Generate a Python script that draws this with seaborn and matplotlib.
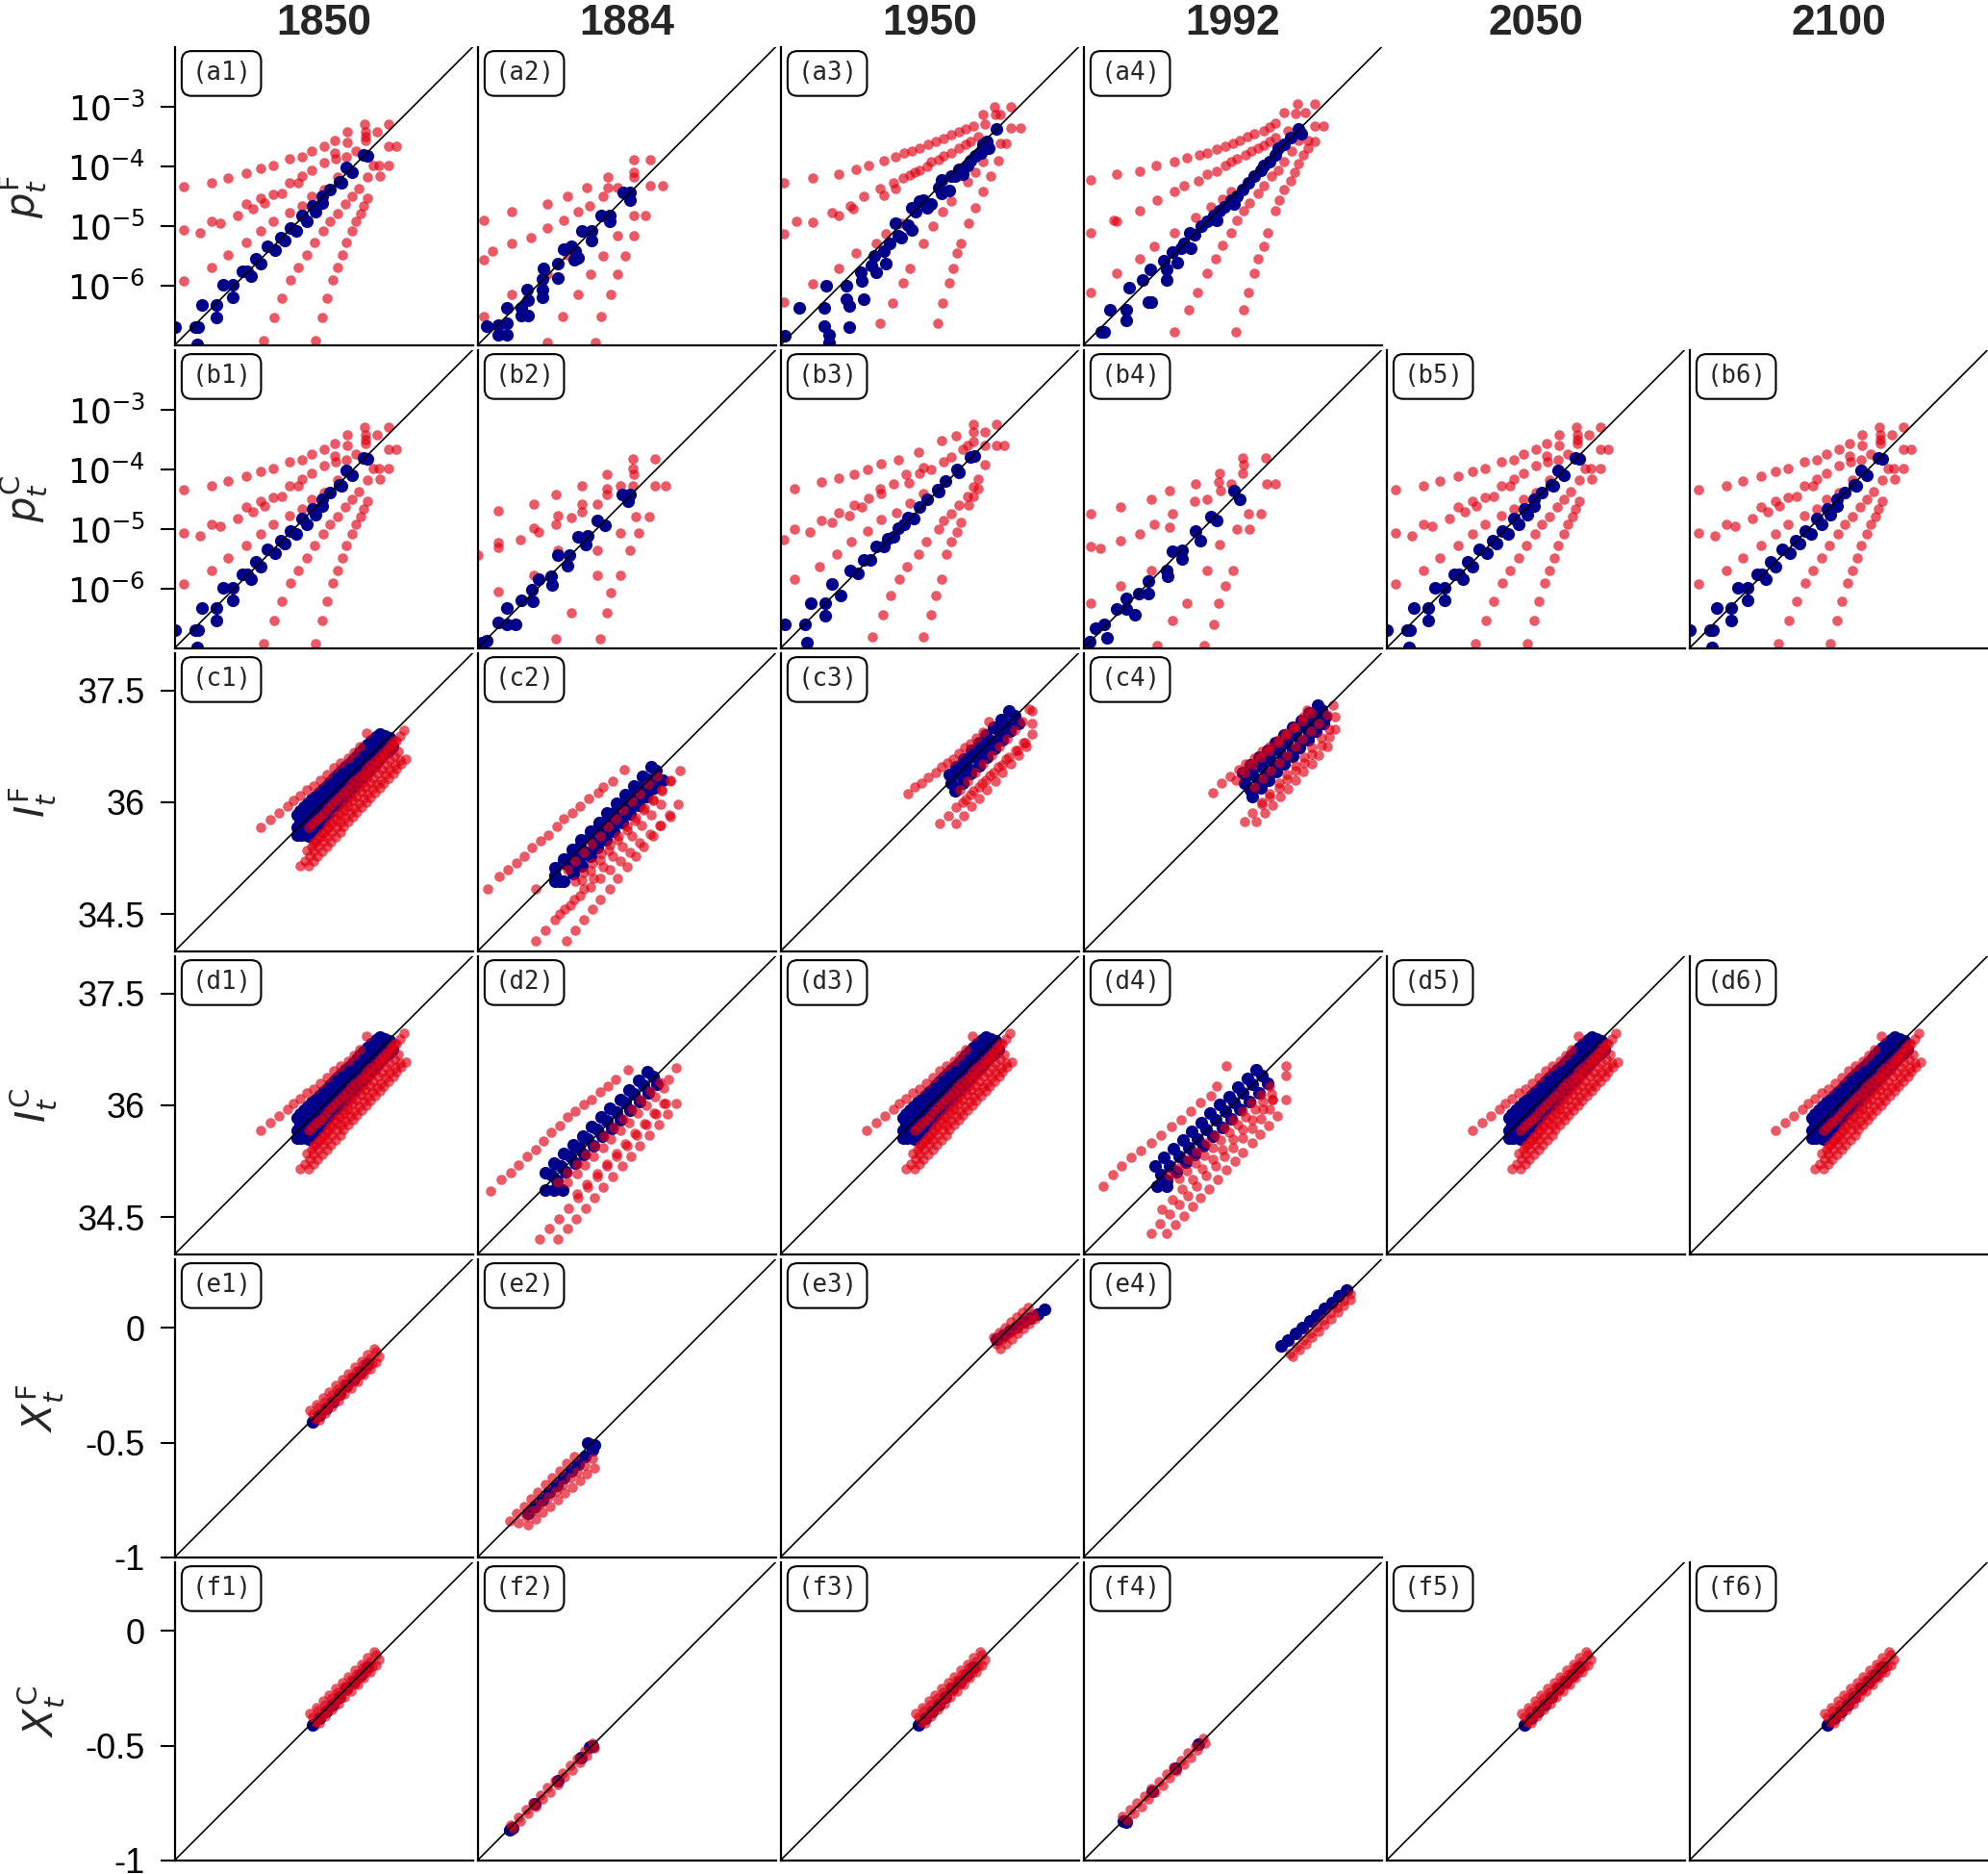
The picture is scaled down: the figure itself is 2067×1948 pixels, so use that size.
import numpy as np
import matplotlib
matplotlib.use('Agg')
import matplotlib.pyplot as plt
import seaborn as sns

# ---------------------------------------------------------------------------
# data
# rows a/b: log10 of the probabilities, rows c-f: plain values
# every list holds (true, predicted) pairs
# ---------------------------------------------------------------------------
YEARS = ['1850', '1884', '1950', '1992', '2050', '2100']
ROW_LETTERS = ['a', 'b', 'c', 'd', 'e', 'f']
ROW_LABELS = [r'$p_t^{\mathrm{F}}$', r'$p_t^{\mathrm{C}}$',
              r'$I_t^{\mathrm{F}}$', r'$I_t^{\mathrm{C}}$',
              r'$X_t^{\mathrm{F}}$', r'$X_t^{\mathrm{C}}$']
LOG_LIMS = (1e-7, 1e-2)
LOG_TICKS = [1e-6, 1e-5, 1e-4, 1e-3]
LOG_TICKLABELS = [r'$10^{-6}$', r'$10^{-5}$', r'$10^{-4}$', r'$10^{-3}$']
I_LIMS = (34.0, 38.0)
I_TICKS = [34.5, 36.0, 37.5]
I_TICKLABELS = ['34.5', '36', '37.5']
X_LIMS = (-1.0, 0.3)
X_TICKS = [-1.0, -0.5, 0.0]
X_TICKLABELS = ['-1', '-0.5', '0']

A1_BLUE = [(-7.00, -6.70), (-6.65, -6.70), (-6.60, -6.70), (-6.62, -6.98), (-6.54, -6.33),
           (-6.30, -6.33), (-6.30, -6.54), (-6.18, -5.99), (-6.02, -5.99), (-6.02, -6.19),
           (-5.86, -5.76), (-5.79, -5.76), (-5.71, -5.85), (-5.63, -5.55), (-5.55, -5.63),
           (-5.44, -5.35), (-5.32, -5.41), (-5.21, -5.19), (-5.15, -5.24), (-5.06, -5.04),
           (-4.96, -5.08), (-4.87, -4.83), (-4.78, -4.93), (-4.69, -4.66), (-4.63, -4.76),
           (-4.53, -4.51), (-4.53, -4.61), (-4.39, -4.39), (-4.23, -4.26), (-4.20, -4.28),
           (-4.12, -4.02), (-4.02, -4.10), (-3.83, -3.81), (-3.77, -3.83)]
A1_RED = [(-6.85, -4.35), (-6.38, -4.27), (-6.10, -4.19), (-5.80, -4.12), (-5.56, -4.04),
          (-5.34, -3.99), (-5.08, -3.88), (-4.87, -3.84), (-4.70, -3.75), (-4.49, -3.67),
          (-4.31, -3.57), (-4.10, -3.42), (-3.82, -3.29), (-3.41, -3.29),
          (-6.85, -5.06), (-6.38, -4.93), (-5.94, -4.83), (-5.80, -4.63), (-5.56, -4.53),
          (-5.34, -4.47), (-5.20, -4.45), (-5.08, -4.28), (-4.87, -4.17), (-4.70, -4.07),
          (-4.49, -3.94), (-4.30, -3.88), (-4.12, -3.84), (-3.96, -3.75), (-3.80, -3.57),
          (-6.57, -5.12), (-6.23, -4.96), (-5.68, -4.72), (-5.49, -4.62), (-4.92, -4.28),
          (-4.31, -3.77), (-4.10, -3.60),
          (-6.85, -5.92), (-6.38, -5.69), (-6.10, -5.49), (-5.80, -5.28), (-5.56, -5.08),
          (-5.34, -4.93), (-5.08, -4.78), (-4.87, -4.66), (-4.70, -4.51), (-4.49, -4.39),
          (-4.26, -4.18),
          (-5.51, -6.92), (-5.33, -6.54), (-5.20, -6.21), (-5.06, -5.91), (-4.92, -5.69),
          (-4.78, -5.48), (-4.65, -5.28), (-4.51, -5.08), (-4.39, -4.93), (-4.26, -4.80),
          (-4.13, -4.63), (-4.03, -4.51), (-3.91, -4.37), (-3.76, -4.18), (-3.67, -3.99),
          (-3.56, -4.17),
          (-4.63, -6.92), (-4.53, -6.54), (-4.45, -6.21), (-4.35, -5.91), (-4.27, -5.69),
          (-4.19, -5.48), (-4.12, -5.28), (-4.03, -5.08), (-3.96, -4.93), (-3.88, -4.80),
          (-3.83, -4.66), (-3.77, -4.53), (-3.58, -3.99), (-3.41, -3.99),
          (-3.80, -3.42), (-3.60, -3.42), (-3.41, -3.66), (-3.28, -3.66), (-3.80, -3.50)]

A2_BLUE = [(-6.85, -6.68), (-6.66, -6.67), (-6.51, -6.63), (-6.66, -6.83), (-6.51, -6.83),
           (-6.51, -6.37), (-6.27, -6.37), (-6.16, -6.25), (-6.26, -6.50), (-6.16, -6.50),
           (-6.17, -6.07), (-5.91, -6.07), (-5.91, -6.19), (-5.89, -5.72), (-5.91, -5.89),
           (-5.66, -5.64), (-5.65, -5.87), (-5.56, -5.39), (-5.43, -5.34), (-5.36, -5.42),
           (-5.38, -5.56), (-5.32, -5.54), (-5.25, -5.08), (-5.09, -5.08), (-5.09, -5.24),
           (-4.92, -4.83), (-4.79, -4.83), (-4.79, -4.93), (-4.55, -4.44), (-4.45, -4.44),
           (-4.45, -4.56)]
A2_RED = [(-6.89, -4.91), (-6.89, -5.57), (-6.75, -5.42), (-6.89, -6.52), (-6.42, -4.76),
          (-6.42, -5.30), (-6.11, -5.19), (-5.83, -4.64), (-5.83, -5.04), (-5.83, -5.81),
          (-5.58, -6.52), (-5.50, -4.50), (-5.56, -4.91), (-5.50, -5.49), (-5.32, -4.76),
          (-5.32, -6.15), (-5.17, -4.36), (-5.12, -4.66), (-5.10, -5.81), (-4.90, -4.51),
          (-4.90, -5.51), (-4.92, -6.52), (-4.81, -4.18), (-4.81, -4.36), (-4.66, -4.36),
          (-4.66, -5.17), (-4.66, -5.81), (-4.52, -5.51), (-4.38, -3.89), (-4.38, -4.10),
          (-4.38, -4.18), (-4.11, -3.89), (-4.38, -4.83), (-4.19, -4.83), (-4.38, -5.16),
          (-4.11, -4.33), (-3.89, -4.33), (-4.77, -6.15), (-5.83, -6.95), (-5.03, -6.95),
          (-6.42, -6.15)]

A3_BLUE = [(-6.93, -6.85), (-6.69, -6.37), (-6.26, -6.37), (-6.24, -6.01), (-6.26, -6.68),
           (-6.19, -6.83), (-6.19, -6.95), (-5.89, -6.01), (-5.89, -6.23), (-5.85, -6.35),
           (-5.85, -6.70), (-5.66, -5.77), (-5.63, -5.92), (-5.60, -6.23), (-5.48, -5.66),
           (-5.43, -5.51), (-5.40, -5.77), (-5.26, -5.42), (-5.23, -5.64), (-5.17, -5.30),
           (-5.03, -5.16), (-4.97, -5.19), (-4.87, -4.99), (-4.80, -5.06), (-4.74, -4.76),
           (-4.67, -4.58), (-4.54, -4.70), (-4.47, -4.63), (-4.30, -4.46), (-4.30, -4.23),
           (-4.17, -4.40), (-4.07, -4.17), (-4.01, -4.05), (-3.94, -4.13), (-3.87, -3.98),
           (-3.81, -3.90), (-3.74, -3.83), (-3.64, -3.77), (-3.61, -3.64), (-3.54, -3.58),
           (-3.51, -3.69), (-3.38, -3.38), (-5.07, -4.96), (-4.80, -4.70), (-4.60, -4.56),
           (-4.34, -4.36), (-4.14, -4.17)]
A3_RED = [(-6.95, -4.28), (-6.46, -4.20), (-6.03, -4.13), (-5.73, -4.05), (-5.52, -3.98),
          (-5.26, -3.91), (-5.08, -3.85), (-4.93, -3.78), (-4.80, -3.74), (-4.67, -3.70),
          (-4.52, -3.64), (-4.39, -3.58), (-4.27, -3.54), (-4.13, -3.47), (-4.01, -3.42),
          (-3.89, -3.37), (-3.76, -3.32), (-3.61, -3.14), (-3.41, -3.01), (-3.13, -3.01),
          (-6.95, -5.13), (-6.74, -4.93), (-6.46, -4.94), (-6.14, -4.77), (-6.03, -4.83),
          (-5.83, -4.66), (-5.78, -4.71), (-5.60, -4.50), (-5.33, -4.38), (-5.26, -4.48),
          (-5.10, -4.28), (-5.07, -4.38), (-4.95, -4.20), (-4.83, -4.15), (-4.75, -4.10),
          (-4.67, -4.07), (-4.54, -4.00), (-4.47, -3.93), (-4.34, -3.89), (-4.27, -3.83),
          (-4.14, -3.77), (-4.01, -3.70), (-3.89, -3.64), (-3.81, -3.58), (-3.68, -3.50),
          (-3.58, -3.30), (-3.40, -3.14), (-3.31, -3.14), (-3.13, -3.36), (-2.98, -3.36),
          (-6.46, -5.97), (-6.03, -5.72), (-5.73, -5.46), (-5.40, -5.29), (-5.23, -5.13),
          (-4.97, -4.96),
          (-6.95, -6.28), (-5.33, -6.63), (-5.12, -6.30), (-4.95, -5.95), (-4.83, -5.72),
          (-4.60, -5.29), (-4.44, -5.01), (-4.28, -4.76), (-4.13, -4.58), (-3.87, -4.26),
          (-3.74, -4.10), (-3.61, -3.93), (-3.31, -3.62),
          (-4.37, -6.63), (-4.28, -6.30), (-4.17, -5.95), (-4.11, -5.72), (-4.04, -5.46),
          (-3.97, -5.29), (-3.84, -4.96), (-3.74, -4.70), (-3.61, -4.43), (-3.48, -4.17),
          (-3.34, -3.91), (-3.21, -3.62)]

A4_BLUE = [(-6.70, -6.77), (-6.65, -6.77), (-6.55, -6.41), (-6.28, -6.41), (-6.28, -6.58),
           (-6.23, -6.04), (-6.01, -5.91), (-5.91, -6.28), (-5.86, -6.28), (-5.88, -5.73),
           (-5.66, -5.59), (-5.61, -5.73), (-5.61, -5.91), (-5.51, -5.44), (-5.42, -5.62),
           (-5.37, -5.37), (-5.32, -5.30), (-5.22, -5.12), (-5.20, -5.37), (-5.14, -5.15),
           (-5.02, -5.01), (-4.92, -4.93), (-4.82, -4.83), (-4.77, -4.90), (-4.72, -4.75),
           (-4.64, -4.68), (-4.52, -4.57), (-4.48, -4.64), (-4.43, -4.50), (-4.33, -4.39),
           (-4.23, -4.28), (-4.13, -4.17), (-4.03, -4.07), (-3.98, -3.99), (-3.88, -3.92),
           (-3.78, -3.81), (-3.73, -3.70), (-3.63, -3.63), (-3.53, -3.52), (-3.39, -3.38),
           (-3.34, -3.45)]
A4_RED = [(-6.88, -4.23), (-6.44, -4.14), (-6.06, -4.08), (-5.78, -3.99), (-5.47, -3.92),
          (-5.27, -3.86), (-5.05, -3.81), (-4.92, -3.78), (-4.77, -3.72), (-4.62, -3.67),
          (-4.50, -3.61), (-4.38, -3.56), (-4.25, -3.51), (-4.13, -3.46), (-3.98, -3.40),
          (-3.88, -3.34), (-3.78, -3.27), (-3.63, -3.10), (-3.41, -2.96), (-3.12, -2.96),
          (-3.12, -3.32), (-2.97, -3.32),
          (-6.88, -5.12), (-6.50, -4.91), (-6.44, -4.93), (-6.06, -4.75), (-5.76, -4.57),
          (-5.47, -4.43), (-5.32, -4.32), (-5.07, -4.25), (-4.92, -4.14), (-4.77, -4.09),
          (-4.62, -3.99), (-4.52, -3.92), (-4.43, -3.88), (-4.28, -3.81), (-4.18, -3.75),
          (-4.08, -3.70), (-3.98, -3.65), (-3.88, -3.59), (-3.78, -3.52), (-3.58, -3.41),
          (-3.44, -3.12), (-3.29, -3.10),
          (-6.88, -6.12), (-6.44, -5.80), (-6.06, -5.55), (-5.81, -5.35), (-5.47, -5.12),
          (-5.12, -4.86), (-4.87, -4.68), (-4.67, -4.55), (-4.52, -4.43),
          (-5.47, -6.78), (-5.24, -6.40), (-5.09, -6.12), (-4.92, -5.80), (-4.79, -5.55),
          (-4.67, -5.33), (-4.52, -5.12), (-4.43, -4.90), (-4.31, -4.75), (-4.21, -4.61),
          (-4.08, -4.46), (-3.98, -4.32), (-3.85, -4.17), (-3.73, -4.07), (-3.63, -3.92),
          (-3.51, -3.74), (-3.39, -3.56), (-3.24, -3.56),
          (-4.45, -6.78), (-4.31, -6.40), (-4.23, -6.12), (-4.13, -5.80), (-4.08, -5.55),
          (-3.98, -5.35), (-3.91, -5.12), (-3.78, -4.75), (-3.71, -4.57), (-3.63, -4.39),
          (-3.53, -4.25), (-3.46, -4.10), (-3.39, -3.96), (-3.32, -3.81), (-3.24, -3.70),
          (-3.12, -3.58)]

B2_BLUE = [(-6.92, -6.91), (-6.85, -6.88), (-6.66, -6.57), (-6.51, -6.60), (-6.36, -6.60),
           (-6.51, -6.32), (-6.27, -6.20), (-6.09, -6.02), (-6.07, -6.22), (-5.98, -5.84),
           (-5.76, -5.79), (-5.75, -5.94), (-5.65, -5.44), (-5.50, -5.62), (-5.46, -5.44),
           (-5.32, -5.14), (-5.19, -5.26), (-5.15, -5.11), (-4.99, -4.86), (-4.87, -4.94),
           (-4.57, -4.43), (-4.47, -4.53), (-4.44, -4.43)]
B2_RED = [(-6.99, -5.44), (-6.66, -4.70), (-6.66, -5.23), (-6.66, -5.31), (-6.66, -6.05),
          (-6.29, -5.18), (-6.06, -4.58), (-6.06, -4.98), (-5.98, -5.05), (-6.06, -5.77),
          (-5.68, -4.43), (-5.65, -4.78), (-5.68, -4.93), (-5.65, -5.36), (-5.43, -4.81),
          (-5.43, -6.40), (-5.68, -6.85), (-5.25, -4.28), (-5.25, -4.58), (-5.25, -4.72),
          (-5.00, -4.58), (-5.00, -5.36), (-5.00, -5.77), (-4.83, -4.09), (-4.83, -4.32),
          (-4.83, -4.43), (-4.77, -6.07), (-4.83, -6.40), (-4.95, -6.85), (-4.60, -4.28),
          (-4.60, -5.07), (-4.60, -5.77), (-4.40, -3.82), (-4.40, -3.99), (-4.38, -4.09),
          (-4.40, -4.28), (-4.34, -4.79), (-4.12, -4.79), (-4.44, -5.36), (-4.30, -5.07),
          (-4.02, -3.82), (-4.02, -4.28), (-3.85, -4.28)]

B3_BLUE = [(-6.93, -6.60), (-6.59, -6.60), (-6.56, -6.91), (-6.49, -6.24), (-6.25, -6.46),
           (-6.25, -6.24), (-6.14, -5.93), (-5.99, -6.11), (-5.83, -5.69), (-5.70, -5.75),
           (-5.60, -5.52), (-5.50, -5.52), (-5.40, -5.29), (-5.26, -5.29), (-5.20, -5.16),
           (-5.10, -5.13), (-5.03, -4.99), (-4.93, -4.93), (-4.87, -4.81), (-4.77, -4.83),
           (-4.67, -4.63), (-4.54, -4.50), (-4.37, -4.34), (-4.34, -4.38), (-4.24, -4.20),
           (-4.04, -4.00), (-4.01, -4.05), (-3.82, -3.79), (-3.75, -3.77)]
B3_RED = [(-6.95, -5.18), (-6.77, -4.32), (-6.32, -4.22), (-6.03, -4.15), (-5.76, -4.08),
          (-5.54, -4.00), (-5.31, -3.91), (-5.03, -3.85), (-4.68, -3.72), (-4.30, -3.52),
          (-4.06, -3.44), (-3.77, -3.24), (-3.77, -3.37), (-3.58, -3.37), (-3.38, -3.25),
          (-6.77, -5.01), (-6.51, -5.05), (-6.32, -4.86), (-6.14, -4.89), (-6.03, -4.73),
          (-5.85, -4.78), (-5.76, -4.60), (-5.63, -4.63), (-5.53, -4.48), (-5.33, -4.33),
          (-5.31, -4.40), (-5.10, -4.25), (-4.90, -4.08), (-4.85, -4.23), (-4.67, -4.07),
          (-4.60, -3.97), (-4.47, -4.00), (-4.27, -3.87), (-4.14, -3.79), (-3.94, -3.67),
          (-3.87, -3.60), (-3.77, -3.54), (-3.58, -3.60), (-3.38, -3.60), (-3.25, -3.60),
          (-6.77, -5.84), (-6.34, -5.64), (-6.05, -5.42), (-5.81, -5.21), (-5.54, -5.03),
          (-5.32, -4.85), (-5.05, -4.73), (-4.83, -4.56), (-4.60, -4.40),
          (-5.46, -6.81), (-5.28, -6.44), (-5.15, -6.12), (-5.01, -5.84), (-4.88, -5.64),
          (-4.68, -5.42), (-4.55, -5.21), (-4.35, -5.01), (-4.27, -4.86), (-4.14, -4.74),
          (-4.01, -4.60), (-3.86, -4.45), (-3.77, -4.30), (-3.68, -4.17), (-3.58, -3.93),
          (-4.60, -6.81), (-4.48, -6.44), (-4.40, -6.12), (-4.30, -5.84), (-4.22, -5.42),
          (-4.14, -5.21), (-4.04, -5.05), (-3.97, -4.89), (-3.84, -4.60), (-3.77, -4.46),
          (-3.68, -4.32)]

B4_BLUE = [(-6.90, -6.89), (-6.80, -6.67), (-6.65, -6.60), (-6.60, -6.82), (-6.44, -6.35),
           (-6.28, -6.35), (-6.14, -6.44), (-6.28, -6.17), (-6.08, -6.08), (-5.91, -6.09),
           (-5.91, -5.88), (-5.61, -5.70), (-5.59, -5.80), (-5.51, -5.37), (-5.34, -5.36),
           (-5.34, -5.51), (-5.12, -5.04), (-5.04, -5.19), (-4.87, -4.79), (-4.77, -4.86),
           (-4.48, -4.36), (-4.38, -4.50)]
B4_RED = [(-6.88, -4.75), (-6.88, -5.30), (-6.72, -5.33), (-6.88, -6.24), (-6.38, -4.64),
          (-6.38, -5.19), (-6.38, -5.95), (-6.06, -5.08), (-5.86, -4.50), (-5.81, -4.93),
          (-5.56, -4.97), (-5.86, -5.70), (-5.56, -4.36), (-5.51, -4.75), (-5.51, -6.53),
          (-5.27, -6.24), (-5.12, -4.25), (-5.14, -4.54), (-4.92, -4.50), (-4.72, -4.07),
          (-4.74, -4.21), (-4.70, -4.36), (-4.92, -5.70), (-4.72, -5.26), (-4.74, -6.24),
          (-4.82, -6.60), (-4.52, -4.25), (-4.43, -5.01), (-4.33, -3.81), (-4.31, -3.92),
          (-4.33, -4.07), (-4.23, -4.75), (-4.21, -5.01), (-4.03, -4.75), (-3.95, -3.81),
          (-4.50, -5.70), (-4.62, -5.95), (-4.97, -6.96), (-5.76, -6.96), (-3.93, -4.25),
          (-3.78, -4.25)]

C1_BLUE = [(35.64, 35.83), (35.74, 35.93), (35.84, 36.03), (35.94, 36.13), (36.04, 36.22),
           (36.14, 36.32), (36.24, 36.42), (36.34, 36.52), (36.44, 36.62), (36.54, 36.72),
           (36.64, 36.82), (36.75, 36.92),
           (35.69, 35.88), (35.79, 35.98), (35.89, 36.08), (35.99, 36.18), (36.09, 36.27),
           (36.19, 36.37), (36.29, 36.47), (36.39, 36.57), (36.49, 36.67), (36.59, 36.77),
           (36.70, 36.87),
           (35.69, 35.75), (35.79, 35.85), (35.89, 35.95), (35.99, 36.05), (36.09, 36.15),
           (36.19, 36.25), (36.30, 36.36), (36.40, 36.46), (36.51, 36.57), (36.61, 36.67),
           (36.71, 36.78), (36.82, 36.89),
           (35.74, 35.80), (35.84, 35.90), (35.94, 36.00), (36.04, 36.10), (36.14, 36.20),
           (36.25, 36.31), (36.35, 36.41), (36.46, 36.52), (36.56, 36.62), (36.66, 36.73),
           (36.77, 36.84),
           (35.72, 35.67), (35.83, 35.78), (35.94, 35.89), (36.04, 35.99), (36.15, 36.10),
           (36.25, 36.20), (36.36, 36.31), (36.46, 36.42), (36.57, 36.53), (36.68, 36.64),
           (36.78, 36.75), (36.89, 36.86),
           (35.78, 35.73), (35.89, 35.84), (35.99, 35.94), (36.10, 36.05), (36.20, 36.15),
           (36.31, 36.26), (36.41, 36.37), (36.52, 36.48), (36.63, 36.59), (36.73, 36.70),
           (36.84, 36.81),
           (35.80, 35.55), (35.90, 35.66), (36.00, 35.77), (36.10, 35.88), (36.20, 35.99),
           (36.31, 36.10), (36.41, 36.21), (36.51, 36.32), (36.61, 36.43), (36.71, 36.54),
           (36.82, 36.65), (36.92, 36.75),
           (35.85, 35.61), (35.95, 35.72), (36.05, 35.83), (36.15, 35.94), (36.26, 36.05),
           (36.36, 36.16), (36.46, 36.27), (36.56, 36.38), (36.66, 36.49), (36.77, 36.60),
           (36.87, 36.70),
           (35.64, 35.56), (35.70, 35.56), (35.77, 35.56), (35.64, 35.66)]
C1_RED = [(35.16, 35.66), (35.28, 35.77), (35.40, 35.86), (35.51, 35.94), (35.59, 36.02),
          (35.69, 36.09), (35.77, 36.16), (35.87, 36.22), (35.95, 36.29), (36.05, 36.37),
          (36.14, 36.46), (36.23, 36.53), (36.33, 36.59), (36.41, 36.67), (36.49, 36.75),
          (36.58, 36.93),
          (35.80, 35.66), (35.90, 35.76), (36.00, 35.86), (36.11, 35.97), (36.21, 36.07),
          (36.32, 36.18), (36.42, 36.29), (36.53, 36.39), (36.63, 36.50), (36.74, 36.60),
          (36.84, 36.71), (36.95, 36.82),
          (35.85, 35.71), (35.95, 35.81), (36.06, 35.92), (36.16, 36.02), (36.27, 36.13),
          (36.37, 36.24), (36.48, 36.34), (36.58, 36.45), (36.69, 36.55), (36.79, 36.66),
          (36.90, 36.77),
          (35.87, 35.45), (35.98, 35.59), (36.09, 35.73), (36.20, 35.86), (36.31, 36.00),
          (36.42, 36.14), (36.53, 36.27), (36.64, 36.41), (36.75, 36.55), (36.86, 36.69),
          (36.97, 36.82), (37.08, 36.96),
          (35.93, 35.52), (36.04, 35.66), (36.15, 35.80), (36.26, 35.93), (36.37, 36.07),
          (36.48, 36.21), (36.59, 36.34), (36.70, 36.48), (36.81, 36.62), (36.92, 36.76),
          (37.03, 36.89),
          (35.69, 35.14), (35.81, 35.27), (35.93, 35.40), (36.05, 35.53), (36.17, 35.66),
          (36.29, 35.79), (36.41, 35.92), (36.53, 36.05), (36.65, 36.18), (36.77, 36.30),
          (36.89, 36.43), (37.02, 36.56),
          (35.75, 35.21), (35.87, 35.34), (35.99, 35.47), (36.11, 35.60), (36.23, 35.73),
          (36.35, 35.86), (36.47, 35.99), (36.59, 36.12), (36.71, 36.24), (36.83, 36.37),
          (36.96, 36.50),
          (35.80, 35.14), (35.92, 35.27), (36.04, 35.40), (36.16, 35.53), (36.27, 35.67),
          (36.39, 35.80), (36.51, 35.93), (36.63, 36.06), (36.75, 36.19), (36.87, 36.32),
          (36.98, 36.45), (37.10, 36.58),
          (35.86, 35.21), (35.98, 35.34), (36.10, 35.47), (36.22, 35.60), (36.33, 35.74),
          (36.45, 35.87), (36.57, 36.00), (36.69, 36.13), (36.81, 36.26), (36.93, 36.39),
          (37.04, 36.52),
          (35.78, 35.35), (35.89, 35.47), (36.00, 35.59), (36.11, 35.71), (36.22, 35.83),
          (36.33, 35.95), (36.45, 36.08), (36.56, 36.20), (36.67, 36.32), (36.78, 36.44),
          (36.89, 36.56), (37.00, 36.68),
          (35.84, 35.41), (35.95, 35.53), (36.06, 35.65), (36.17, 35.77), (36.28, 35.89),
          (36.39, 36.02), (36.51, 36.14), (36.62, 36.26), (36.73, 36.38), (36.84, 36.50),
          (36.95, 36.62)]

C2_BLUE = [(35.04, 35.12), (35.16, 35.24), (35.27, 35.37), (35.39, 35.49), (35.51, 35.61),
           (35.63, 35.73), (35.74, 35.86), (35.86, 35.98), (35.98, 36.10), (36.10, 36.22),
           (36.21, 36.35), (36.33, 36.47),
           (35.16, 35.18), (35.27, 35.29), (35.38, 35.41), (35.50, 35.52), (35.61, 35.63),
           (35.72, 35.74), (35.83, 35.86), (35.94, 35.97), (36.05, 36.08), (36.16, 36.19),
           (36.28, 36.31), (36.39, 36.42),
           (35.25, 35.12), (35.36, 35.23), (35.46, 35.33), (35.57, 35.44), (35.67, 35.54),
           (35.78, 35.65), (35.88, 35.75), (35.99, 35.86), (36.09, 35.96), (36.20, 36.07),
           (36.30, 36.17), (36.41, 36.28),
           (35.29, 35.04), (35.40, 35.15), (35.51, 35.27), (35.61, 35.39), (35.72, 35.50),
           (35.83, 35.61), (35.94, 35.73), (36.05, 35.84), (36.16, 35.96), (36.26, 36.07),
           (36.37, 36.19), (36.48, 36.30),
           (35.04, 34.94), (35.10, 34.94), (35.16, 34.94), (35.04, 35.02)]
C2_RED = [(34.13, 34.83), (34.29, 35.00), (34.41, 35.09), (34.52, 35.19), (34.63, 35.28),
          (34.73, 35.39), (34.84, 35.48), (34.95, 35.56), (35.06, 35.67), (35.16, 35.78),
          (35.27, 35.86), (35.38, 35.95), (35.49, 36.05), (35.62, 36.13), (35.68, 36.21),
          (35.81, 36.28), (35.97, 36.44),
          (35.20, 35.10), (35.31, 35.21), (35.42, 35.33), (35.53, 35.44), (35.64, 35.55),
          (35.75, 35.67), (35.85, 35.78), (35.96, 35.90), (36.07, 36.01), (36.18, 36.12),
          (36.29, 36.24), (36.40, 36.35),
          (35.31, 34.94), (35.43, 35.06), (35.54, 35.18), (35.66, 35.31), (35.77, 35.43),
          (35.89, 35.55), (36.01, 35.67), (36.12, 35.79), (36.24, 35.92), (36.36, 36.04),
          (36.47, 36.16), (36.59, 36.28),
          (35.40, 34.95), (35.52, 35.08), (35.64, 35.22), (35.76, 35.35), (35.88, 35.49),
          (36.00, 35.62), (36.11, 35.75), (36.23, 35.89), (36.35, 36.02), (36.47, 36.15),
          (36.59, 36.29), (36.71, 36.42),
          (34.78, 34.14), (34.91, 34.28), (35.04, 34.42), (35.17, 34.56), (35.30, 34.70),
          (35.43, 34.84), (35.56, 34.98), (35.68, 35.13), (35.81, 35.27), (35.94, 35.41),
          (36.07, 35.55), (36.20, 35.69), (36.33, 35.83), (36.46, 35.97),
          (35.19, 34.14), (35.31, 34.28), (35.42, 34.42), (35.54, 34.56), (35.65, 34.70),
          (35.77, 34.84), (35.88, 34.98), (36.00, 35.13), (36.12, 35.27), (36.23, 35.41),
          (36.35, 35.55), (36.46, 35.69), (36.58, 35.83), (36.69, 35.97),
          (35.10, 34.50), (35.24, 34.62), (35.37, 34.74), (35.51, 34.86), (35.64, 34.98),
          (35.78, 35.10), (35.91, 35.21), (36.05, 35.33), (36.18, 35.45), (36.32, 35.57),
          (36.45, 35.69), (36.59, 35.81),
          (34.78, 34.83)]

D2_BLUE = [(34.91, 35.10), (35.03, 35.22), (35.16, 35.35), (35.28, 35.47), (35.41, 35.59),
           (35.53, 35.71), (35.66, 35.84), (35.78, 35.96), (35.91, 36.08), (36.03, 36.20),
           (36.16, 36.33), (36.28, 36.45),
           (34.99, 35.07), (35.11, 35.19), (35.24, 35.31), (35.36, 35.43), (35.48, 35.55),
           (35.61, 35.67), (35.73, 35.79), (35.86, 35.91), (35.98, 36.03), (36.10, 36.15),
           (36.23, 36.27), (36.35, 36.39),
           (35.06, 34.99), (35.18, 35.11), (35.31, 35.22), (35.43, 35.34), (35.55, 35.46),
           (35.67, 35.58), (35.80, 35.69), (35.92, 35.81), (36.04, 35.93), (36.17, 36.05),
           (36.29, 36.16), (36.41, 36.28),
           (34.91, 34.86), (35.03, 34.86), (35.14, 34.86)]
D2_RED = [(34.18, 34.85), (34.32, 35.01), (34.44, 35.10), (34.55, 35.20), (34.67, 35.31),
          (34.78, 35.41), (34.88, 35.52), (34.99, 35.63), (35.10, 35.73), (35.21, 35.84),
          (35.31, 35.92), (35.42, 36.01), (35.53, 36.08), (35.64, 36.18), (35.75, 36.26),
          (35.85, 36.34), (36.02, 36.48),
          (35.08, 34.97), (35.20, 35.09), (35.33, 35.21), (35.45, 35.34), (35.57, 35.46),
          (35.70, 35.58), (35.82, 35.70), (35.95, 35.82), (36.07, 35.95), (36.19, 36.07),
          (36.32, 36.19), (36.44, 36.31),
          (35.21, 34.97), (35.33, 35.08), (35.44, 35.20), (35.56, 35.31), (35.68, 35.43),
          (35.79, 35.54), (35.92, 35.66), (36.03, 35.77), (36.15, 35.89), (36.27, 36.00),
          (36.38, 36.12), (36.50, 36.23),
          (36.56, 36.34), (36.67, 36.50),
          (34.83, 34.20), (34.96, 34.34), (35.09, 34.48), (35.22, 34.62), (35.35, 34.76),
          (35.48, 34.90), (35.61, 35.04), (35.74, 35.18), (35.87, 35.32), (36.00, 35.46),
          (36.13, 35.60), (36.26, 35.74), (36.39, 35.88), (36.52, 36.02),
          (35.08, 34.20), (35.20, 34.34), (35.32, 34.48), (35.45, 34.62), (35.57, 34.76),
          (35.69, 34.90), (35.81, 35.04), (35.94, 35.18), (36.06, 35.32), (36.18, 35.46),
          (36.30, 35.60), (36.43, 35.74), (36.55, 35.88), (36.67, 36.02),
          (35.34, 34.81), (35.47, 34.94), (35.60, 35.08), (35.73, 35.21), (35.86, 35.35),
          (35.98, 35.48), (36.11, 35.62), (36.24, 35.75), (36.37, 35.89), (36.50, 36.02)]

C3_BLUE = [(36.26, 36.37), (36.36, 36.48), (36.46, 36.58), (36.56, 36.69), (36.66, 36.80),
           (36.76, 36.90), (36.86, 37.01), (36.96, 37.11), (37.06, 37.22),
           (36.29, 36.26), (36.40, 36.37), (36.50, 36.49), (36.61, 36.60), (36.72, 36.71),
           (36.82, 36.82), (36.93, 36.94), (37.03, 37.05), (37.14, 37.16),
           (36.34, 36.15), (36.45, 36.26), (36.55, 36.38), (36.66, 36.49), (36.77, 36.61),
           (36.87, 36.72), (36.98, 36.83), (37.08, 36.95), (37.19, 37.06)]
C3_RED = [(35.71, 36.11), (35.80, 36.20), (35.89, 36.26), (35.98, 36.33), (36.08, 36.40),
          (36.16, 36.47), (36.24, 36.53), (36.32, 36.58), (36.39, 36.66), (36.47, 36.73),
          (36.55, 36.79), (36.63, 36.86), (36.71, 36.94), (36.79, 37.08),
          (36.40, 36.17), (36.51, 36.28), (36.61, 36.40), (36.72, 36.51), (36.83, 36.63),
          (36.93, 36.74), (37.04, 36.85), (37.14, 36.97), (37.25, 37.08),
          (36.14, 35.71), (36.25, 35.82), (36.36, 35.93), (36.48, 36.04), (36.59, 36.15),
          (36.70, 36.26), (36.81, 36.36), (36.92, 36.47), (37.03, 36.58), (37.15, 36.69),
          (37.26, 36.80), (37.37, 36.91),
          (36.35, 35.71), (36.46, 35.82), (36.56, 35.94), (36.67, 36.05), (36.77, 36.17),
          (36.88, 36.28), (36.98, 36.40), (37.09, 36.51), (37.19, 36.63), (37.30, 36.74),
          (36.45, 36.00), (36.55, 36.10), (36.66, 36.20), (36.76, 36.30), (36.86, 36.40),
          (36.97, 36.50), (37.07, 36.60), (37.18, 36.70), (37.28, 36.80),
          (37.37, 37.22), (37.33, 37.25), (37.37, 37.05)]

C4_BLUE = [(36.13, 36.40), (36.24, 36.50), (36.35, 36.60), (36.47, 36.70), (36.58, 36.80),
           (36.69, 36.90), (36.80, 37.00), (36.92, 37.10), (37.03, 37.20), (37.14, 37.30),
           (36.16, 36.26), (36.27, 36.37), (36.39, 36.48), (36.50, 36.59), (36.62, 36.70),
           (36.73, 36.80), (36.85, 36.91), (36.96, 37.02), (37.08, 37.13), (37.19, 37.24),
           (36.24, 36.16), (36.35, 36.27), (36.46, 36.38), (36.57, 36.49), (36.68, 36.60),
           (36.80, 36.70), (36.91, 36.81), (37.02, 36.92), (37.13, 37.03), (37.24, 37.14),
           (36.27, 36.08), (36.38, 36.19), (36.48, 36.30), (36.59, 36.41), (36.69, 36.51),
           (36.80, 36.62), (36.90, 36.73), (37.01, 36.84), (37.11, 36.95), (37.22, 37.06)]
C4_RED = [(35.73, 36.13), (35.85, 36.25), (35.97, 36.34), (36.08, 36.43), (36.18, 36.52),
          (36.29, 36.59), (36.39, 36.68), (36.50, 36.75), (36.61, 36.84), (36.71, 36.93),
          (36.82, 37.01), (36.95, 37.14), (37.00, 37.24),
          (36.05, 36.30), (36.16, 36.40), (36.27, 36.50), (36.38, 36.60), (36.49, 36.70),
          (36.61, 36.80), (36.72, 36.90), (36.83, 37.00), (36.94, 37.10), (37.05, 37.20),
          (36.29, 36.21), (36.40, 36.32), (36.51, 36.42), (36.62, 36.53), (36.73, 36.63),
          (36.84, 36.74), (36.94, 36.85), (37.05, 36.95), (37.16, 37.06), (37.27, 37.17),
          (37.35, 37.30), (37.37, 37.14), (37.37, 36.98),
          (36.16, 35.74), (36.27, 35.85), (36.39, 35.97), (36.50, 36.08), (36.62, 36.19),
          (36.73, 36.31), (36.84, 36.42), (36.96, 36.53), (37.07, 36.64), (37.19, 36.76),
          (37.30, 36.87),
          (36.32, 35.74), (36.43, 35.85), (36.53, 35.96), (36.64, 36.07), (36.74, 36.18),
          (36.85, 36.30), (36.95, 36.41), (37.06, 36.52), (37.16, 36.63), (37.27, 36.74),
          (36.39, 36.00), (36.50, 36.12), (36.62, 36.25), (36.73, 36.37), (36.85, 36.49),
          (36.96, 36.61), (37.07, 36.73), (37.19, 36.86), (37.30, 36.98)]

D4_BLUE = [(34.96, 35.18), (35.08, 35.30), (35.21, 35.42), (35.33, 35.53), (35.45, 35.65),
           (35.58, 35.77), (35.70, 35.89), (35.83, 36.01), (35.95, 36.12), (36.07, 36.24),
           (36.20, 36.36), (36.32, 36.48),
           (35.04, 35.07), (35.16, 35.19), (35.29, 35.31), (35.41, 35.43), (35.53, 35.55),
           (35.65, 35.67), (35.78, 35.80), (35.90, 35.92), (36.02, 36.04), (36.14, 36.16),
           (36.27, 36.28), (36.39, 36.40),
           (35.12, 34.99), (35.24, 35.11), (35.37, 35.23), (35.49, 35.34), (35.61, 35.46),
           (35.73, 35.58), (35.86, 35.70), (35.98, 35.82), (36.10, 35.94), (36.22, 36.05),
           (36.35, 36.17), (36.47, 36.29),
           (34.99, 34.92), (35.12, 34.92)]
D4_RED = [(34.26, 34.92), (34.39, 35.07), (34.51, 35.18), (34.64, 35.30), (34.77, 35.39),
          (34.91, 35.50), (35.04, 35.60), (35.18, 35.71), (35.31, 35.81), (35.44, 35.92),
          (35.57, 36.03), (35.71, 36.13), (35.79, 36.26), (35.92, 36.53),
          (35.15, 35.05), (35.27, 35.16), (35.40, 35.27), (35.52, 35.38), (35.64, 35.49),
          (35.76, 35.60), (35.89, 35.70), (36.01, 35.81), (36.13, 35.92), (36.25, 36.03),
          (36.38, 36.14), (36.50, 36.25),
          (35.28, 35.02), (35.39, 35.12), (35.50, 35.22), (35.62, 35.33), (35.73, 35.43),
          (35.84, 35.53), (35.96, 35.64), (36.07, 35.74), (36.18, 35.84), (36.30, 35.95),
          (36.41, 36.05), (36.52, 36.15),
          (36.71, 36.53), (36.71, 36.40), (36.54, 36.08), (36.71, 36.08),
          (34.91, 34.28), (35.03, 34.41), (35.15, 34.54), (35.28, 34.67), (35.40, 34.79),
          (35.52, 34.92), (35.64, 35.05), (35.77, 35.18), (35.89, 35.31), (36.01, 35.43),
          (36.13, 35.56), (36.26, 35.69), (36.38, 35.82), (36.50, 35.95),
          (35.12, 34.28), (35.23, 34.40), (35.35, 34.52), (35.46, 34.64), (35.57, 34.76),
          (35.69, 34.88), (35.80, 35.00), (35.92, 35.13), (36.03, 35.25), (36.14, 35.37),
          (36.26, 35.49), (36.37, 35.61), (36.49, 35.73), (36.60, 35.85),
          (35.05, 34.60), (35.19, 34.73), (35.32, 34.87), (35.46, 35.00), (35.59, 35.14),
          (35.73, 35.27), (35.86, 35.41), (36.00, 35.54), (36.13, 35.68), (36.27, 35.81),
          (36.40, 35.95), (36.54, 36.08)]

E1_BLUE = [(-0.40, -0.41), (-0.37, -0.38), (-0.34, -0.35), (-0.31, -0.32), (-0.28, -0.29),
           (-0.25, -0.25), (-0.22, -0.22), (-0.19, -0.19), (-0.16, -0.16)]
E1_RED = [(-0.410, -0.360), (-0.382, -0.333), (-0.354, -0.306), (-0.326, -0.279),
          (-0.298, -0.252), (-0.270, -0.225), (-0.242, -0.198), (-0.214, -0.171),
          (-0.186, -0.144), (-0.158, -0.117), (-0.130, -0.090),
          (-0.400, -0.375), (-0.372, -0.348), (-0.344, -0.321), (-0.316, -0.294),
          (-0.288, -0.267), (-0.260, -0.240), (-0.232, -0.213), (-0.204, -0.186),
          (-0.176, -0.159), (-0.148, -0.132), (-0.120, -0.105),
          (-0.385, -0.395), (-0.357, -0.368), (-0.330, -0.341), (-0.302, -0.314),
          (-0.275, -0.287), (-0.248, -0.260), (-0.220, -0.233), (-0.193, -0.206),
          (-0.165, -0.179), (-0.138, -0.152), (-0.110, -0.125),
          (-0.370, -0.400), (-0.342, -0.372), (-0.314, -0.344), (-0.287, -0.317),
          (-0.259, -0.289), (-0.231, -0.261), (-0.203, -0.233), (-0.176, -0.206),
          (-0.148, -0.178), (-0.120, -0.150)]

E2_BLUE = [(-0.780, -0.810), (-0.749, -0.779), (-0.718, -0.748), (-0.687, -0.717),
           (-0.656, -0.686), (-0.624, -0.654), (-0.593, -0.623), (-0.562, -0.592),
           (-0.531, -0.561), (-0.500, -0.530), (-0.490, -0.510), (-0.520, -0.500)]
E2_RED = [(-0.860, -0.840), (-0.829, -0.809), (-0.798, -0.778), (-0.767, -0.747),
          (-0.736, -0.716), (-0.704, -0.684), (-0.673, -0.653), (-0.642, -0.622),
          (-0.611, -0.591), (-0.580, -0.560),
          (-0.820, -0.850), (-0.788, -0.822), (-0.756, -0.794), (-0.724, -0.766),
          (-0.692, -0.738), (-0.660, -0.710), (-0.628, -0.682), (-0.596, -0.654),
          (-0.564, -0.626), (-0.532, -0.598), (-0.500, -0.570),
          (-0.780, -0.860), (-0.748, -0.832), (-0.716, -0.804), (-0.683, -0.777),
          (-0.651, -0.749), (-0.619, -0.721), (-0.587, -0.693), (-0.554, -0.666),
          (-0.522, -0.638), (-0.490, -0.610)]

E3_BLUE = [(-0.060, -0.050), (-0.030, -0.031), (0.000, -0.012), (0.030, 0.006),
           (0.060, 0.025), (0.090, 0.044), (0.120, 0.062), (0.150, 0.080)]
E3_RED = [(-0.070, -0.040), (-0.045, -0.018), (-0.020, 0.003), (0.005, 0.025),
          (0.030, 0.047), (0.055, 0.068), (0.080, 0.090),
          (-0.060, -0.070), (-0.033, -0.048), (-0.007, -0.027), (0.020, -0.005),
          (0.047, 0.017), (0.073, 0.038), (0.100, 0.060),
          (-0.040, -0.090), (-0.015, -0.068), (0.010, -0.047), (0.035, -0.025),
          (0.060, -0.003), (0.085, 0.018), (0.110, 0.040)]

E4_BLUE = [(-0.140, -0.080), (-0.108, -0.053), (-0.077, -0.025), (-0.045, 0.002),
           (-0.013, 0.029), (0.018, 0.057), (0.050, 0.084), (0.082, 0.111),
           (0.113, 0.139), (0.145, 0.166)]
E4_RED = [(-0.100, -0.110), (-0.071, -0.081), (-0.042, -0.052), (-0.012, -0.024),
          (0.017, 0.005), (0.046, 0.034), (0.075, 0.063), (0.105, 0.091),
          (0.134, 0.120), (0.163, 0.149),
          (-0.086, -0.125), (-0.058, -0.097), (-0.031, -0.070), (-0.003, -0.042),
          (0.025, -0.015), (0.052, 0.013), (0.080, 0.041), (0.108, 0.068),
          (0.135, 0.096), (0.163, 0.123)]

F2_BLUE = [(-0.860, -0.865), (-0.845, -0.860), (-0.750, -0.752), (-0.650, -0.652),
           (-0.550, -0.551), (-0.500, -0.500), (-0.510, -0.505)]
F2_RED = [(-0.855, -0.845), (-0.823, -0.813), (-0.790, -0.780), (-0.758, -0.748),
          (-0.726, -0.716), (-0.694, -0.684), (-0.661, -0.651), (-0.629, -0.619),
          (-0.597, -0.587), (-0.565, -0.555), (-0.532, -0.522), (-0.500, -0.490),
          (-0.845, -0.860), (-0.813, -0.828), (-0.780, -0.796), (-0.748, -0.765),
          (-0.716, -0.733), (-0.684, -0.701), (-0.651, -0.669), (-0.619, -0.637),
          (-0.587, -0.605), (-0.555, -0.574), (-0.522, -0.542), (-0.490, -0.510)]

F4_BLUE = [(-0.825, -0.830), (-0.815, -0.835), (-0.700, -0.700), (-0.600, -0.600),
           (-0.500, -0.495)]
F4_RED = [(-0.830, -0.810), (-0.798, -0.779), (-0.766, -0.748), (-0.735, -0.718),
          (-0.703, -0.687), (-0.671, -0.656), (-0.639, -0.625), (-0.607, -0.594),
          (-0.575, -0.563), (-0.544, -0.532), (-0.512, -0.501), (-0.480, -0.470),
          (-0.810, -0.825), (-0.779, -0.795), (-0.748, -0.764), (-0.717, -0.734),
          (-0.686, -0.703), (-0.655, -0.673), (-0.624, -0.642), (-0.594, -0.612),
          (-0.563, -0.581), (-0.532, -0.551), (-0.501, -0.520), (-0.470, -0.490)]

# which data goes in which panel (missing keys stay blank)
PANEL_DATA = {
    'a1': (A1_BLUE, A1_RED), 'a2': (A2_BLUE, A2_RED), 'a3': (A3_BLUE, A3_RED), 'a4': (A4_BLUE, A4_RED),
    'b1': (A1_BLUE, A1_RED), 'b2': (B2_BLUE, B2_RED), 'b3': (B3_BLUE, B3_RED), 'b4': (B4_BLUE, B4_RED),
    'b5': (A1_BLUE, A1_RED), 'b6': (A1_BLUE, A1_RED),
    'c1': (C1_BLUE, C1_RED), 'c2': (C2_BLUE, C2_RED), 'c3': (C3_BLUE, C3_RED), 'c4': (C4_BLUE, C4_RED),
    'd1': (C1_BLUE, C1_RED), 'd2': (D2_BLUE, D2_RED), 'd3': (C1_BLUE, C1_RED), 'd4': (D4_BLUE, D4_RED),
    'd5': (C1_BLUE, C1_RED), 'd6': (C1_BLUE, C1_RED),
    'e1': (E1_BLUE, E1_RED), 'e2': (E2_BLUE, E2_RED), 'e3': (E3_BLUE, E3_RED), 'e4': (E4_BLUE, E4_RED),
    'f1': (E1_BLUE, E1_RED), 'f2': (F2_BLUE, F2_RED), 'f3': (E1_BLUE, E1_RED), 'f4': (F4_BLUE, F4_RED),
    'f5': (E1_BLUE, E1_RED), 'f6': (E1_BLUE, E1_RED),
}

RED = '#e00012'
BLUE = '#00008b'

# ---------------------------------------------------------------------------
sns.set_theme(style='white')
plt.rcParams['font.family'] = ['Liberation Sans', 'DejaVu Sans']
plt.rcParams['mathtext.fontset'] = 'dejavusans'

W, H = 2067, 1948
fig = plt.figure(figsize=(W / 100, H / 100), dpi=100)

for i, letter in enumerate(ROW_LETTERS):
    for j in range(6):
        key = f'{letter}{j + 1}'
        left = (181.5 + 315 * j) / W
        bottom = 1 - (48.8 + 315 * i + 310) / H
        ax = fig.add_axes([left, bottom, 310 / W, 310 / H])
        if i == 0:
            ax.set_title(YEARS[j], fontsize=32, fontweight='bold', pad=9)
        if key not in PANEL_DATA:
            ax.axis('off')
            continue

        blue, red = PANEL_DATA[key]
        bx, by = np.array(blue, dtype=float).T
        rx, ry = np.array(red, dtype=float).T
        is_log = letter in ('a', 'b')
        if is_log:
            ax.set_xscale('log')
            ax.set_yscale('log')
            bx, by, rx, ry = 10 ** bx, 10 ** by, 10 ** rx, 10 ** ry
            lims, ticks, ticklabels = LOG_LIMS, LOG_TICKS, LOG_TICKLABELS
            layers = [(rx, ry, RED, 58, 0.65), (bx, by, BLUE, 90, 1.0)]
        else:
            if letter in ('c', 'd'):
                lims, ticks, ticklabels = I_LIMS, I_TICKS, I_TICKLABELS
            else:
                lims, ticks, ticklabels = X_LIMS, X_TICKS, X_TICKLABELS
            layers = [(bx, by, BLUE, 90, 1.0), (rx, ry, RED, 58, 0.65)]

        for x, y, c, s, a in layers:
            sns.scatterplot(x=x, y=y, ax=ax, color=c, s=s, alpha=a,
                            linewidth=0, legend=False)

        # 1:1 reference line
        lo, hi = lims
        ax.plot([lo, hi], [lo, hi], color='black', lw=1.2, zorder=5)
        ax.set_xlim(lo, hi)
        ax.set_ylim(lo, hi)
        ax.set_xlabel('')
        ax.set_ylabel('')

        for side in ['top', 'right']:
            ax.spines[side].set_visible(False)
        for side in ['left', 'bottom']:
            ax.spines[side].set_color('black')
            ax.spines[side].set_linewidth(1.6)

        ax.minorticks_off()
        ax.tick_params(axis='x', bottom=False, labelbottom=False)
        if j == 0:
            ax.set_yticks(ticks)
            ax.set_yticklabels(ticklabels)
            ax.tick_params(axis='y', left=True, length=11, width=1.5,
                           labelsize=25 if is_log else 26, pad=11,
                           color='black', labelcolor='black')
            ax.set_ylabel(ROW_LABELS[i], fontsize=30, labelpad=14)
        else:
            ax.tick_params(axis='y', left=False, labelleft=False)

        ax.text(0.157, 0.911, f'({key})', transform=ax.transAxes,
                ha='center', va='center', fontsize=18.5, family='DejaVu Sans Mono',
                bbox=dict(boxstyle='round,pad=0.4', fc='white', ec='black', lw=1.5),
                zorder=10)

plt.savefig('out.png', dpi=100)
plt.close()
